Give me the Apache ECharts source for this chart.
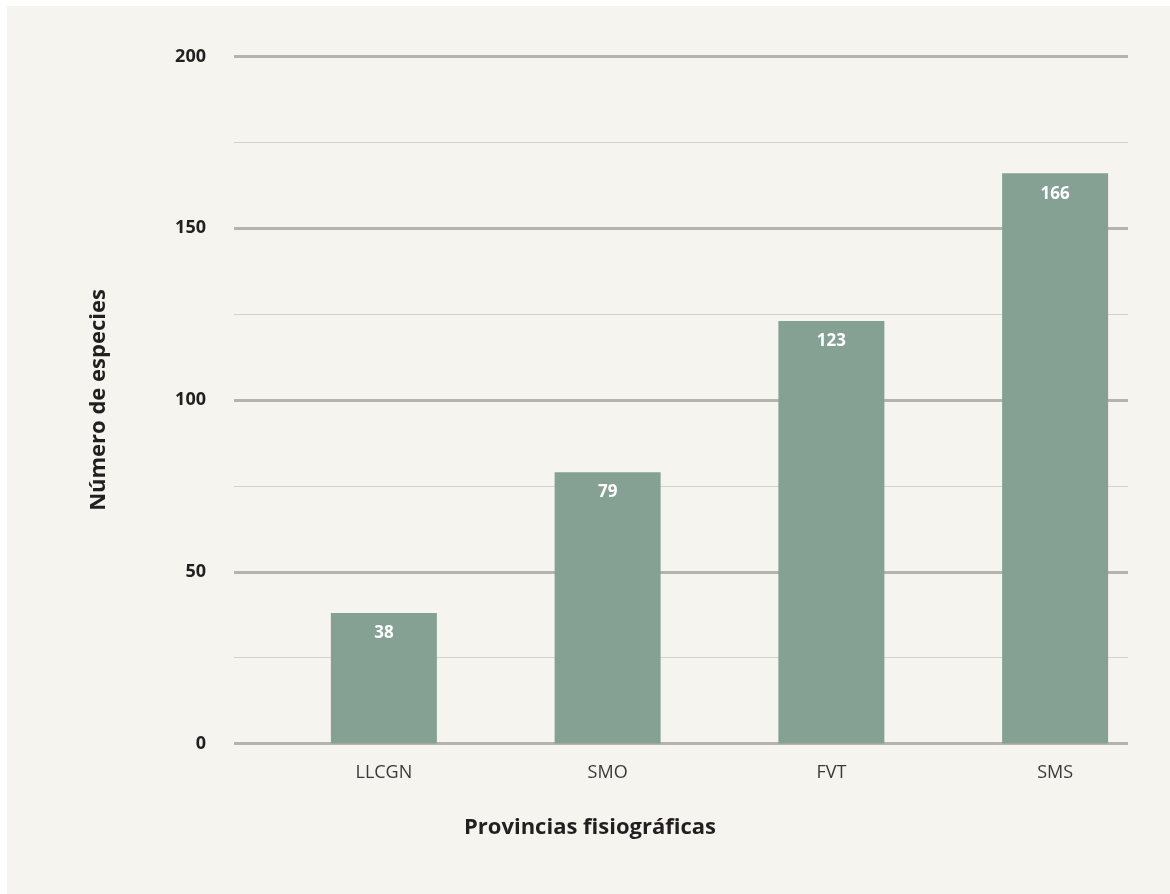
<!DOCTYPE html>
<html>
<head>
<meta charset="utf-8">
<title>Número de especies por provincia fisiográfica</title>
<script src="https://cdn.jsdelivr.net/npm/echarts@6/dist/echarts.min.js"></script>
<style>
	html, body { margin: 0; padding: 0; background: #ffffff; overflow: hidden; }
	#chart { width: 1170px; height: 894px; }
</style>
</head>
<body>
<div id="chart"></div>
<script>
	// 数据
	var provincias = ['LLCGN', 'SMO', 'FVT', 'SMS'];
	var especies = [38, 79, 123, 166];
	var yTicks = [0, 50, 100, 150, 200];

	var fontFamily = '"Open Sans", "Noto Sans", sans-serif';
	var textColor = '#231f20';

	var chart = echarts.init(document.getElementById('chart'));

	var option = {
		backgroundColor: '#ffffff',
		animation: false,
		textStyle: { fontFamily: fontFamily },
		// 背景面板
		graphic: [{
			type: 'rect',
			z: -10,
			silent: true,
			shape: { x: 7, y: 6, width: 1163, height: 888 },
			style: { fill: '#f5f4ee' }
		}, {
			type: 'text',
			left: 464,
			top: 817,
			style: {
				text: 'Provincias fisiográficas',
				fill: textColor,
				font: 'bold 22px ' + fontFamily
			}
		}],
		grid: [
			// 网格线
			{ left: 234, right: 42, top: 56.5, height: 687, outerBoundsMode: 'none' },
			// 柱子（位置相对网格线右移）
			{ left: 272, right: 3, top: 56.5, height: 687, outerBoundsMode: 'none' }
		],
		xAxis: [{
			gridIndex: 0,
			type: 'value',
			min: 0,
			max: 1,
			show: false
		}, {
			gridIndex: 1,
			type: 'category',
			data: provincias,
			axisLine: { show: false },
			axisTick: { show: false },
			axisLabel: {
				margin: 20,
				fontSize: 18,
				color: '#3a3a3a',
				fontFamily: fontFamily
			}
		}],
		yAxis: [{
			// 次网格线
			gridIndex: 0,
			type: 'value',
			position: 'left',
			min: 0,
			max: 200,
			interval: 25,
			axisLine: { show: false },
			axisTick: { show: false },
			axisLabel: { show: false },
			splitLine: { lineStyle: { color: '#d3d1cb', width: 1 } }
		}, {
			// 主网格线和刻度
			gridIndex: 0,
			type: 'value',
			position: 'left',
			offset: 0,
			min: 0,
			max: 200,
			interval: 50,
			name: 'Número de especies',
			nameLocation: 'middle',
			nameGap: 124,
			nameTextStyle: {
				fontSize: 22,
				fontWeight: 'bold',
				color: textColor,
				fontFamily: fontFamily
			},
			axisLine: { show: false },
			axisTick: { show: false },
			axisLabel: {
				margin: 28,
				fontSize: 18,
				fontWeight: 'bold',
				color: textColor,
				fontFamily: fontFamily,
				formatter: function(v) {
					return yTicks.indexOf(v) > -1 ? String(v) : '';
				}
			},
			splitLine: { lineStyle: { color: '#b5b3ae', width: 3 } }
		}, {
			gridIndex: 1,
			type: 'value',
			min: 0,
			max: 200,
			show: false,
			splitLine: { show: false }
		}],
		series: [{
			type: 'bar',
			xAxisIndex: 1,
			yAxisIndex: 2,
			data: especies,
			barWidth: 106,
			z: 5,
			itemStyle: { color: '#85a194' },
			label: {
				show: true,
				position: 'insideTop',
				distance: 12,
				color: '#ffffff',
				fontSize: 17,
				fontWeight: 'bold',
				fontFamily: fontFamily
			}
		}]
	};

	chart.setOption(option);
</script>
</body>
</html>
